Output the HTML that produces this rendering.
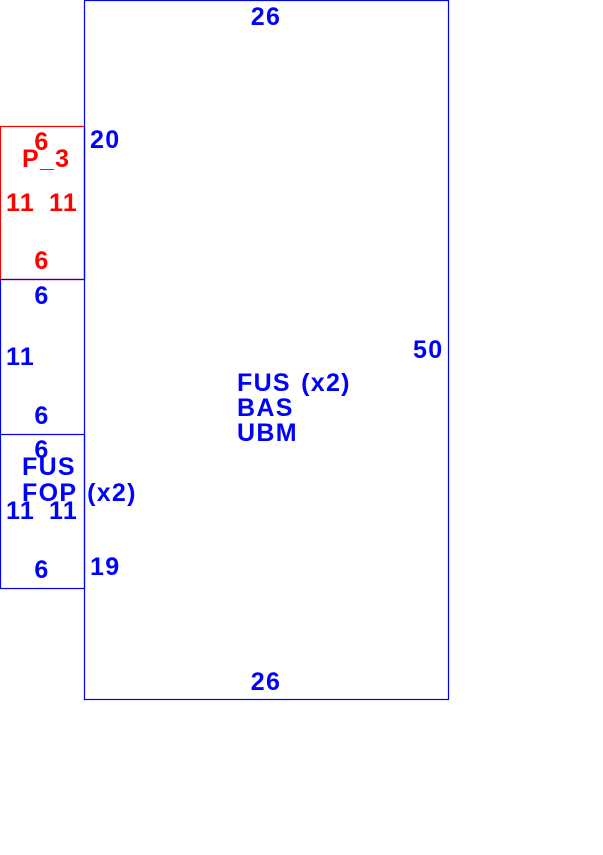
<!DOCTYPE html>
<html><head><style>body{margin:0;background:#fff}svg{display:block}text{font-family:"Liberation Sans",Arial,sans-serif;font-weight:bold;font-size:25px;letter-spacing:1.3px;word-spacing:2px}</style></head>
<body><svg width="603" height="855" xmlns="http://www.w3.org/2000/svg">
<rect x="84.5" y="0.5" width="364" height="699" fill="none" stroke="#0000ff" stroke-width="1.2"/>
<line x1="0.5" y1="279" x2="0.5" y2="434" stroke="#0000ff" stroke-width="1.2"/>
<rect x="0.5" y="126.5" width="84" height="153" fill="none" stroke="#ff0000" stroke-width="1.2"/>
<line x1="84.5" y1="126" x2="84.5" y2="280" stroke="#0000ff" stroke-width="1.2"/>
<line x1="0" y1="279.5" x2="84" y2="279.5" stroke="#0000ff" stroke-width="1.2"/>
<rect x="0.5" y="434.5" width="84" height="154" fill="none" stroke="#0000ff" stroke-width="1.2"/>
<g fill="#0000ff">
<text x="266" y="25" text-anchor="middle">26</text>
<text x="266" y="690" text-anchor="middle">26</text>
<text x="90" y="148">20</text>
<text x="90" y="575">19</text>
<text x="413" y="358">50</text>
<text x="42" y="304" text-anchor="middle">6</text>
<text x="6" y="365">11</text>
<text x="42" y="424" text-anchor="middle">6</text>
<text x="237" y="391">FUS (x2)</text>
<text x="237" y="416">BAS</text>
<text x="237" y="441">UBM</text>
<text x="42" y="458" text-anchor="middle">6</text>
<text x="22" y="475">FUS</text>
<text x="22" y="501">FOP (x2)</text>
<text x="6" y="519">11</text>
<text x="49" y="519">11</text>
<text x="42" y="578" text-anchor="middle">6</text>
</g>
<g fill="#ff0000">
<text x="42" y="150" text-anchor="middle">6</text>
<text x="22" y="167">P_3</text>
<text x="6" y="211">11</text>
<text x="49" y="211">11</text>
<text x="42" y="269" text-anchor="middle">6</text>
</g>
</svg></body></html>
